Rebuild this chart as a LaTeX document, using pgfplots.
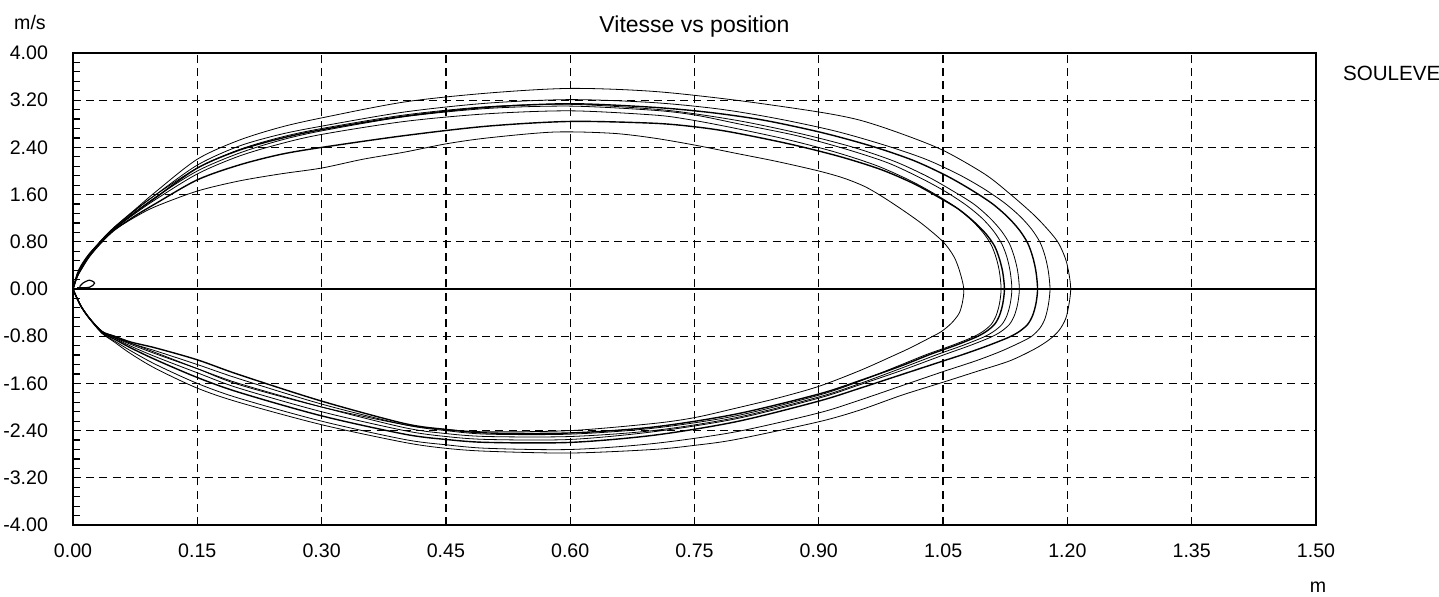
\documentclass[border=0pt]{standalone}
\usepackage{fontspec}
\setmainfont{Liberation Sans}
\usepackage{pgfplots}
\pgfplotsset{compat=1.18}
\begin{document}
\begin{tikzpicture}
\begin{axis}[
  at={(0,0)}, anchor=south west,
  width=621.5pt, height=236pt, scale only axis,
  xmin=0, xmax=1.5, ymin=-4, ymax=4,
  xtick={0,0.15,0.3,0.45,0.6,0.75,0.9,1.05,1.2,1.35,1.5},
  ytick={-4,-3.2,-2.4,-1.6,-0.8,0,0.8,1.6,2.4,3.2,4},
  minor y tick num=4,
  ytick pos=left,
  xtick style={draw=none},
  ytick style={black, line width=0.6pt},
  major tick length=3.5pt, minor tick length=3.5pt,
  tick align=inside,
  axis line style={black, line width=1pt},
  grid=major,
  major grid style={black, line width=0.65pt, dash pattern=on 4pt off 2.6pt},
  minor grid style={draw=none},
  /pgf/number format/assume math mode=true,
  /pgf/number format/.cd, fixed, fixed zerofill, precision=2,
  /pgfplots/.cd,
  xticklabel style={font=\fontsize{9.8}{11}\selectfont, yshift=-6pt},
  yticklabel style={font=\fontsize{9.8}{11}\selectfont, xshift=-9pt},
  clip=false,
  cycle list={{black, solid, mark=none, line width=0.7pt}},
  every axis plot/.append style={smooth, tension=0.5},
]
\addplot[black, solid, mark=none, line width=0.9pt] coordinates {(0,0) (1.5,0)};
% L1
\addplot coordinates {(0,0)(0.005,0.22)(0.01,0.35)(0.02,0.58)(0.035,0.84)(0.05,1.05)(0.075,1.35)(0.1,1.65)(0.15,2.2)(0.2,2.52)(0.25,2.74)(0.3,2.9)(0.4,3.17)(0.5,3.32)(0.6,3.4)(0.7,3.35)(0.8,3.2)(0.9,3.0)(0.95,2.86)(1.0,2.63)(1.05,2.35)(1.1,1.95)(1.13,1.62)(1.16,1.25)(1.18,0.95)(1.19,0.76)(1.198,0.5)(1.202,0.25)(1.204,0)
(1.202,-0.25)(1.198,-0.5)(1.19,-0.7)(1.178,-0.86)(1.16,-1.02)(1.13,-1.22)(1.09,-1.4)(1.05,-1.58)(1.0,-1.8)(0.95,-2.05)(0.9,-2.25)(0.8,-2.55)(0.75,-2.65)(0.7,-2.72)(0.6,-2.78)(0.5,-2.75)(0.45,-2.7)(0.4,-2.6)(0.3,-2.3)(0.2,-1.92)(0.15,-1.68)(0.1,-1.35)(0.07,-1.1)(0.05,-0.9)(0.035,-0.75)(0.02,-0.5)(0.01,-0.3)(0.003,-0.1)(0,0)};
% L2
\addplot coordinates {(0,0)(0.005,0.22)(0.01,0.34)(0.02,0.57)(0.035,0.82)(0.05,1.03)(0.075,1.33)(0.1,1.6)(0.15,2.1)(0.2,2.42)(0.25,2.62)(0.3,2.76)(0.4,3.0)(0.5,3.15)(0.6,3.21)(0.7,3.16)(0.78,3.05)(0.849,2.89)(0.919,2.68)(0.979,2.44)(1.029,2.2)(1.069,1.94)(1.099,1.7)(1.124,1.46)(1.143,1.23)(1.157,1.01)(1.167,0.79)(1.173,0.56)(1.177,0.3)(1.179,0)
(1.177,-0.27)(1.173,-0.5)(1.167,-0.66)(1.157,-0.8)(1.144,-0.9)(1.119,-1.06)(1.089,-1.22)(1.05,-1.4)(1.0,-1.64)(0.95,-1.88)(0.9,-2.1)(0.8,-2.42)(0.7,-2.62)(0.6,-2.72)(0.5,-2.7)(0.45,-2.64)(0.4,-2.55)(0.3,-2.24)(0.2,-1.85)(0.15,-1.6)(0.1,-1.28)(0.07,-1.05)(0.05,-0.88)(0.035,-0.75)(0.02,-0.5)(0.01,-0.3)(0.003,-0.1)(0,0)};
% L3
\addplot coordinates {(0,0)(0.005,0.25)(0.01,0.4)(0.02,0.6)(0.035,0.82)(0.05,1.02)(0.075,1.3)(0.1,1.55)(0.15,2.05)(0.2,2.35)(0.25,2.55)(0.3,2.7)(0.4,2.93)(0.5,3.08)(0.6,3.14)(0.7,3.08)(0.77,2.99)(0.834,2.86)(0.904,2.65)(0.964,2.42)(1.014,2.18)(1.054,1.92)(1.084,1.68)(1.109,1.45)(1.128,1.22)(1.142,1.0)(1.152,0.78)(1.158,0.55)(1.162,0.3)(1.164,0)
(1.162,-0.25)(1.158,-0.45)(1.152,-0.6)(1.142,-0.72)(1.129,-0.82)(1.104,-0.96)(1.074,-1.11)(1.05,-1.22)(1.0,-1.45)(0.95,-1.68)(0.9,-1.9)(0.8,-2.25)(0.7,-2.48)(0.6,-2.6)(0.5,-2.6)(0.45,-2.55)(0.4,-2.46)(0.3,-2.15)(0.2,-1.75)(0.15,-1.5)(0.1,-1.2)(0.07,-1.0)(0.05,-0.85)(0.035,-0.74)(0.02,-0.5)(0.01,-0.3)(0.003,-0.1)(0,0)};
% L4
\addplot coordinates {(0,0)(0.005,0.24)(0.01,0.38)(0.02,0.6)(0.035,0.84)(0.05,1.05)(0.075,1.34)(0.1,1.6)(0.15,2.05)(0.2,2.36)(0.25,2.57)(0.3,2.72)(0.4,2.95)(0.5,3.09)(0.6,3.13)(0.7,3.05)(0.75,2.97)(0.812,2.83)(0.882,2.62)(0.942,2.4)(0.992,2.16)(1.032,1.9)(1.062,1.66)(1.087,1.44)(1.106,1.21)(1.12,0.99)(1.13,0.77)(1.136,0.54)(1.14,0.3)(1.142,0)
(1.14,-0.25)(1.136,-0.45)(1.13,-0.6)(1.12,-0.72)(1.107,-0.82)(1.082,-0.96)(1.052,-1.11)(1.0,-1.38)(0.95,-1.62)(0.9,-1.85)(0.8,-2.2)(0.7,-2.42)(0.6,-2.55)(0.5,-2.55)(0.45,-2.5)(0.4,-2.4)(0.3,-2.08)(0.2,-1.68)(0.15,-1.42)(0.1,-1.15)(0.07,-0.97)(0.05,-0.83)(0.035,-0.73)(0.02,-0.5)(0.01,-0.3)(0.003,-0.1)(0,0)};
% L5
\addplot coordinates {(0,0)(0.005,0.23)(0.01,0.37)(0.02,0.59)(0.035,0.83)(0.05,1.03)(0.075,1.3)(0.1,1.56)(0.15,2.0)(0.2,2.3)(0.25,2.52)(0.3,2.68)(0.4,2.92)(0.5,3.06)(0.6,3.1)(0.7,3.03)(0.75,2.95)(0.803,2.8)(0.873,2.6)(0.933,2.37)(0.983,2.14)(1.023,1.88)(1.053,1.65)(1.078,1.42)(1.097,1.2)(1.111,0.98)(1.121,0.76)(1.127,0.54)(1.131,0.29)(1.133,0)
(1.131,-0.25)(1.127,-0.45)(1.121,-0.6)(1.111,-0.72)(1.098,-0.82)(1.073,-0.96)(1.043,-1.11)(1.0,-1.34)(0.95,-1.6)(0.9,-1.83)(0.8,-2.18)(0.7,-2.4)(0.6,-2.5)(0.5,-2.5)(0.45,-2.45)(0.4,-2.35)(0.3,-2.0)(0.2,-1.6)(0.15,-1.35)(0.1,-1.1)(0.07,-0.94)(0.05,-0.82)(0.035,-0.72)(0.02,-0.5)(0.01,-0.3)(0.003,-0.1)(0,0)};
% L6
\addplot coordinates {(0,0)(0.005,0.22)(0.01,0.36)(0.02,0.58)(0.035,0.82)(0.05,1.02)(0.075,1.28)(0.1,1.52)(0.15,1.95)(0.2,2.25)(0.25,2.46)(0.3,2.62)(0.4,2.84)(0.5,2.97)(0.6,3.02)(0.7,2.95)(0.74,2.88)(0.79,2.75)(0.86,2.54)(0.92,2.32)(0.97,2.09)(1.01,1.84)(1.04,1.61)(1.065,1.39)(1.084,1.17)(1.098,0.96)(1.108,0.75)(1.114,0.53)(1.118,0.29)(1.12,0)
(1.118,-0.25)(1.114,-0.45)(1.108,-0.6)(1.098,-0.72)(1.085,-0.82)(1.06,-0.96)(1.03,-1.11)(1.0,-1.28)(0.95,-1.56)(0.9,-1.8)(0.8,-2.15)(0.7,-2.36)(0.6,-2.46)(0.5,-2.46)(0.45,-2.4)(0.4,-2.3)(0.3,-1.95)(0.2,-1.52)(0.15,-1.28)(0.1,-1.05)(0.07,-0.92)(0.05,-0.8)(0.035,-0.72)(0.02,-0.5)(0.01,-0.3)(0.003,-0.1)(0,0)};
% L7
\addplot coordinates {(0,0)(0.005,0.21)(0.01,0.34)(0.02,0.56)(0.035,0.8)(0.05,1.0)(0.075,1.24)(0.1,1.45)(0.15,1.85)(0.2,2.1)(0.25,2.28)(0.3,2.4)(0.4,2.6)(0.5,2.76)(0.6,2.84)(0.7,2.81)(0.75,2.75)(0.794,2.66)(0.864,2.46)(0.924,2.25)(0.974,2.03)(1.014,1.79)(1.044,1.56)(1.069,1.35)(1.088,1.13)(1.102,0.93)(1.112,0.73)(1.118,0.51)(1.122,0.28)(1.124,0)
(1.122,-0.25)(1.118,-0.45)(1.112,-0.6)(1.102,-0.72)(1.089,-0.82)(1.064,-0.96)(1.034,-1.11)(1.0,-1.3)(0.95,-1.55)(0.9,-1.78)(0.8,-2.12)(0.7,-2.34)(0.6,-2.44)(0.5,-2.44)(0.45,-2.38)(0.4,-2.28)(0.3,-1.9)(0.2,-1.45)(0.15,-1.2)(0.1,-1.0)(0.07,-0.9)(0.05,-0.8)(0.035,-0.72)(0.02,-0.5)(0.01,-0.3)(0.003,-0.1)(0,0)};
% L8
\addplot coordinates {(0,0)(0.005,0.2)(0.01,0.33)(0.02,0.55)(0.035,0.8)(0.05,1.0)(0.075,1.22)(0.1,1.4)(0.15,1.66)(0.2,1.83)(0.25,1.95)(0.3,2.05)(0.35,2.2)(0.4,2.32)(0.45,2.46)(0.5,2.56)(0.58,2.66)(0.65,2.64)(0.7,2.56)(0.75,2.44)(0.8,2.3)(0.85,2.16)(0.9,2.0)(0.93,1.88)(0.955,1.74)(0.975,1.58)(1.0,1.35)(1.025,1.1)(1.05,0.8)(1.063,0.55)(1.07,0.3)(1.075,0)
(1.073,-0.25)(1.069,-0.42)(1.06,-0.58)(1.048,-0.72)(1.035,-0.82)(1.01,-1.0)(0.99,-1.13)(0.95,-1.38)(0.9,-1.65)(0.85,-1.85)(0.8,-2.02)(0.75,-2.18)(0.7,-2.28)(0.6,-2.4)(0.5,-2.42)(0.45,-2.38)(0.4,-2.3)(0.3,-2.0)(0.2,-1.62)(0.15,-1.35)(0.1,-1.08)(0.07,-0.92)(0.05,-0.82)(0.035,-0.72)(0.02,-0.5)(0.01,-0.3)(0.003,-0.1)(0,0)};
% small hook near origin
\addplot[black, solid, mark=none, line width=0.6pt] coordinates {(0.005,0.02)(0.02,0.03)(0.026,0.1)(0.02,0.15)(0.012,0.1)(0.008,0.04)};
\node[font=\fontsize{9.8}{11}\selectfont] at ([xshift=-21.5pt,yshift=15.5pt]axis description cs:0,1) {m/s};
\node[font=\fontsize{11.5}{13}\selectfont] at ([yshift=13pt]axis description cs:0.5,1) {Vitesse vs position};
\node[font=\fontsize{10.3}{12}\selectfont, anchor=west] at ([xshift=10pt,yshift=-10pt]axis description cs:1,1) {SOULEVE};
\node[font=\fontsize{9.8}{11}\selectfont] at ([xshift=1pt,yshift=-31pt]axis description cs:1,0) {m};
\end{axis}
\pgfresetboundingbox
\path (-36.5pt,-35.5pt) rectangle (683pt,262.5pt);
\end{tikzpicture}
\end{document}
